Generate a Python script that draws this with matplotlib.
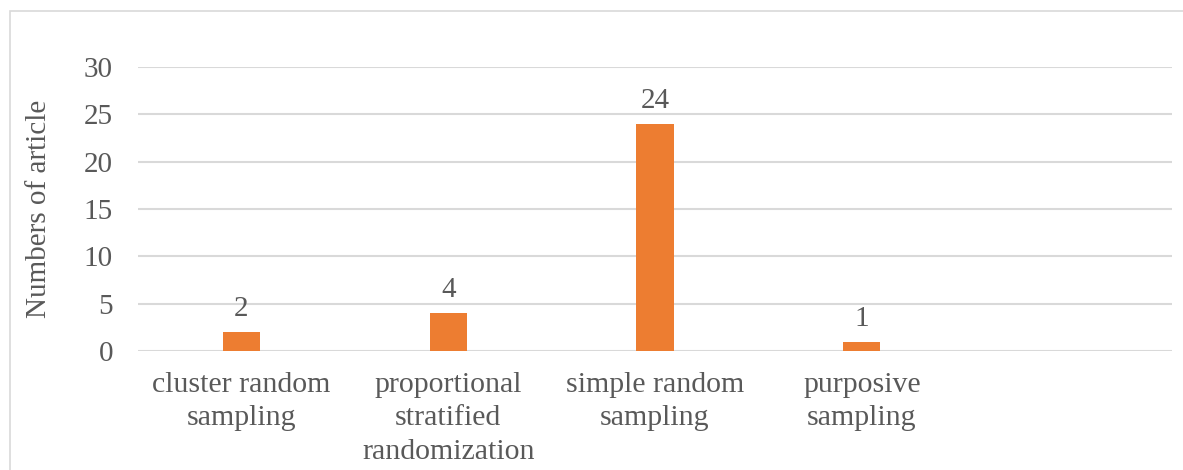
import matplotlib
matplotlib.use("Agg")
import matplotlib.pyplot as plt
from matplotlib.patches import Rectangle

categories = ["cluster random\nsampling",
              "proportional\nstratified\nrandomization",
              "simple random\nsampling",
              "purposive\nsampling",
              ""]
values = [2, 4, 24, 1, None]
yticks = [0, 5, 10, 15, 20, 25, 30]

ORANGE = "#ED7D31"
GRID = "#D9D9D9"
TXT = "#595959"

plt.rcParams["font.family"] = ["Liberation Serif", "DejaVu Serif"]

fig = plt.figure(figsize=(11.83, 4.70), dpi=100)
# chart area border (cut off at right/bottom as in the source)
fig.patches.append(Rectangle((10 / 1183, -0.1), 1.2, 1.1 - 11 / 470,
                             transform=fig.transFigure, fill=False,
                             edgecolor=GRID, lw=1.2))

ax = fig.add_axes([138 / 1183, 1 - 351 / 470, 1034 / 1183, 284 / 470])
xs = list(range(len(categories)))
for x, v in zip(xs, values):
    if v is None:
        continue
    ax.bar(x, v, width=0.18, color=ORANGE, zorder=3)
    ax.annotate(str(v), (x, v), xytext=(0, 7), textcoords="offset points",
                ha="center", va="bottom", fontsize=21, color=TXT)

ax.set_xlim(-0.5, len(categories) - 0.5)
ax.set_ylim(0, 30)
ax.set_yticks(yticks)
ax.set_xticks(xs)
ax.set_xticklabels(categories, linespacing=1.37)
for s in ax.spines.values():
    s.set_visible(False)
ax.yaxis.grid(True, color=GRID, lw=1.5, zorder=0)
ax.tick_params(axis="y", length=0, pad=18, labelsize=21, labelcolor=TXT)
ax.tick_params(axis="x", length=0, pad=15, labelsize=21.5, labelcolor=TXT)
ax.set_ylabel("Numbers of article", fontsize=21, color=TXT, labelpad=23)

fig.savefig("out.png", dpi=100)
